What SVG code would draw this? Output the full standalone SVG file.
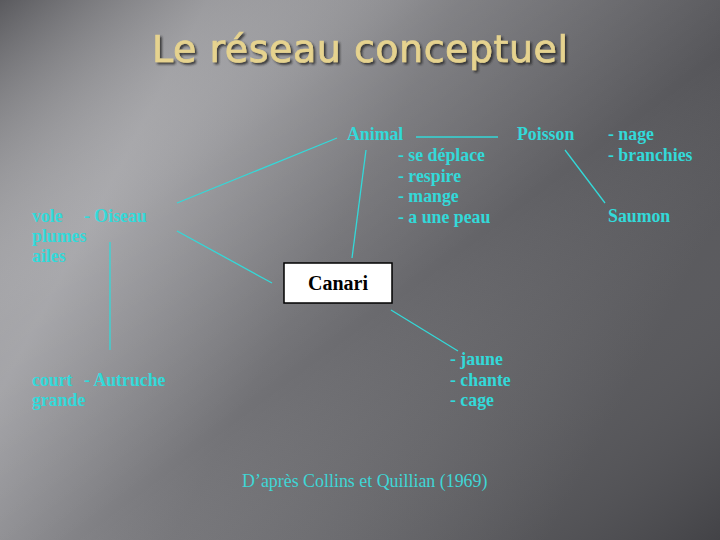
<svg xmlns="http://www.w3.org/2000/svg" width="720" height="540" viewBox="0 0 720 540">
  <defs>
    <linearGradient id="bg" x1="0" y1="0" x2="1" y2="0.4">
      <stop offset="0" stop-color="#8a8a8e"/>
      <stop offset="0.25" stop-color="#9c9ca0"/>
      <stop offset="0.55" stop-color="#727276"/>
      <stop offset="1" stop-color="#4e4e52"/>
    </linearGradient>
    <linearGradient id="band" x1="0" y1="0" x2="1" y2="1">
      <stop offset="0" stop-color="#3a3a3e" stop-opacity="0.6"/>
      <stop offset="0.3" stop-color="#ffffff" stop-opacity="0.12"/>
      <stop offset="0.55" stop-color="#ffffff" stop-opacity="0"/>
      <stop offset="1" stop-color="#2e2e32" stop-opacity="0.35"/>
    </linearGradient>
    <filter id="sh" x="-5%" y="-20%" width="110%" height="140%">
      <feDropShadow dx="2" dy="2" stdDeviation="1" flood-color="#202022" flood-opacity="0.8"/>
    </filter>
  </defs>
  <style>
    .t { font-family: "Liberation Serif", "DejaVu Serif", serif; font-weight: bold; font-size: 17.8px; fill: #33d9d9; }
    .ref { font-family: "Liberation Serif", "DejaVu Serif", serif; font-size: 17.9px; fill: #3fd6d6; }
    .title { font-family: "DejaVu Sans", "Liberation Sans", sans-serif; font-size: 38px; fill: #e6d38f; stroke: #e6d38f; stroke-width: 0.7; }
    .c line { stroke: #33d9d9; stroke-width: 1.3; }
  </style>
  <rect width="720" height="540" fill="url(#bg)"/>
  <rect width="720" height="540" fill="url(#band)"/>

  <text class="title" x="152" y="62" textLength="416" filter="url(#sh)">Le réseau conceptuel</text>

  <g class="c" id="connectors">
    <line x1="416" y1="137" x2="498" y2="137"/>
    <line x1="565" y1="150" x2="605" y2="203"/>
    <line x1="337" y1="138" x2="177" y2="203"/>
    <line x1="366" y1="150" x2="352" y2="258"/>
    <line x1="177" y1="231" x2="272" y2="283"/>
    <line x1="110" y1="242" x2="110" y2="350"/>
    <line x1="391" y1="310" x2="458" y2="351"/>
  </g>

  <g id="animal">
    <text class="t" x="347" y="140">Animal</text>
    <text class="t" x="398" y="161">- se déplace</text>
    <text class="t" x="398" y="182">- respire</text>
    <text class="t" x="398" y="202">- mange</text>
    <text class="t" x="398" y="223">- a une peau</text>
  </g>
  <g id="poisson">
    <text class="t" x="517" y="140">Poisson</text>
    <text class="t" x="608" y="140">- nage</text>
    <text class="t" x="608" y="161">- branchies</text>
  </g>
  <g id="saumon">
    <text class="t" x="608" y="222">Saumon</text>
  </g>
  <g id="oiseau">
    <text class="t" x="32" y="222">vole</text>
    <text class="t" x="84" y="222">- Oiseau</text>
    <text class="t" x="32" y="242">plumes</text>
    <text class="t" x="32" y="262">ailes</text>
  </g>
  <g id="canari">
    <rect x="284" y="263" width="108" height="40" fill="#ffffff" stroke="#000000" stroke-width="1.5"/>
    <text x="338" y="290" text-anchor="middle" font-family="Liberation Serif, serif" font-weight="bold" font-size="20" fill="#000">Canari</text>
  </g>
  <g id="canari-props">
    <text class="t" x="450" y="365">- jaune</text>
    <text class="t" x="450" y="386">- chante</text>
    <text class="t" x="450" y="406">- cage</text>
  </g>
  <g id="autruche">
    <text class="t" x="32" y="386">court</text>
    <text class="t" x="84" y="386">- Autruche</text>
    <text class="t" x="32" y="406">grande</text>
  </g>
  <text class="ref" x="242" y="487">D’après Collins et Quillian (1969)</text>
</svg>
